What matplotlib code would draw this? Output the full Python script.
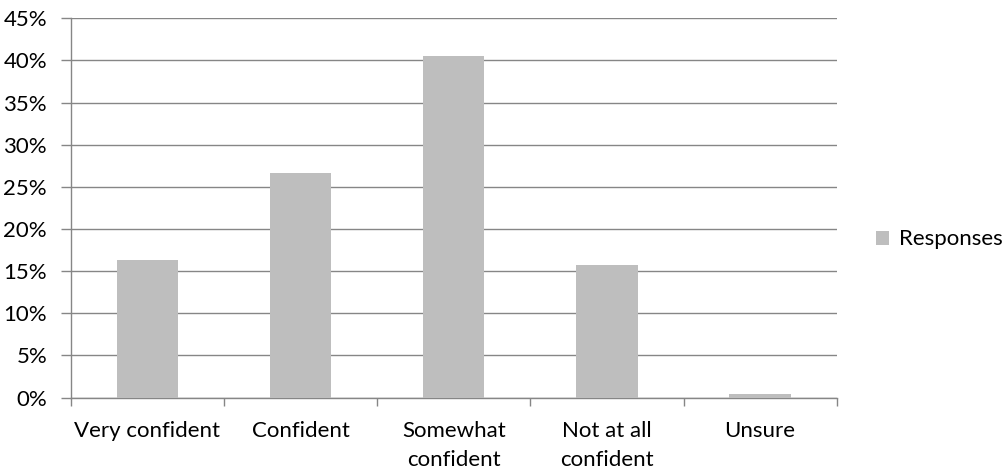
import matplotlib
matplotlib.use("Agg")
import matplotlib.pyplot as plt
from matplotlib.ticker import MultipleLocator, FuncFormatter, FixedLocator

plt.rcParams['font.family'] = ['Lato', 'DejaVu Sans']

categories = ["Very confident", "Confident", "Somewhat\nconfident", "Not at all\nconfident", "Unsure"]
responses = [16.3, 26.7, 40.55, 15.75, 0.47]
series_name = "Responses"

bar_color = "#BEBEBE"
axis_color = "#868686"
fs = 16

fig = plt.figure(figsize=(10.07, 4.70), dpi=100)
ax = fig.add_axes([0.0702, 0.1540, 0.7607, 0.8070])

x = list(range(len(categories)))
ax.bar(x, responses, width=0.4, color=bar_color, label=series_name, zorder=3)

ax.set_xlim(-0.5, len(categories) - 0.5)
ax.set_ylim(0, 45)
ax.yaxis.set_major_locator(MultipleLocator(5))
ax.yaxis.set_major_formatter(FuncFormatter(lambda v, p: f"{v:.0f}%"))
ax.grid(axis='y', color=axis_color, linewidth=1.0, zorder=0)

# category labels centred under bars, tick marks at category boundaries
ax.set_xticks(x)
ax.set_xticklabels(categories, fontsize=fs, linespacing=1.55)
ax.tick_params(axis='x', length=0, pad=17)
ax.xaxis.set_minor_locator(FixedLocator([i - 0.5 for i in range(len(categories) + 1)]))
ax.tick_params(axis='x', which='minor', length=6, width=1.0, color=axis_color)

ax.tick_params(axis='y', length=7, width=1.0, color=axis_color, labelsize=fs, pad=10)

for side in ('top', 'right'):
    ax.spines[side].set_visible(False)
for side in ('left', 'bottom'):
    ax.spines[side].set_color(axis_color)
    ax.spines[side].set_linewidth(1.0)

leg = ax.legend(loc='center left', bbox_to_anchor=(1.051, 0.417), frameon=False,
                fontsize=fs, handlelength=0.6, handleheight=0.6, handletextpad=0.45,
                borderaxespad=0, borderpad=0)

fig.savefig("out.png", dpi=100, facecolor="white")
